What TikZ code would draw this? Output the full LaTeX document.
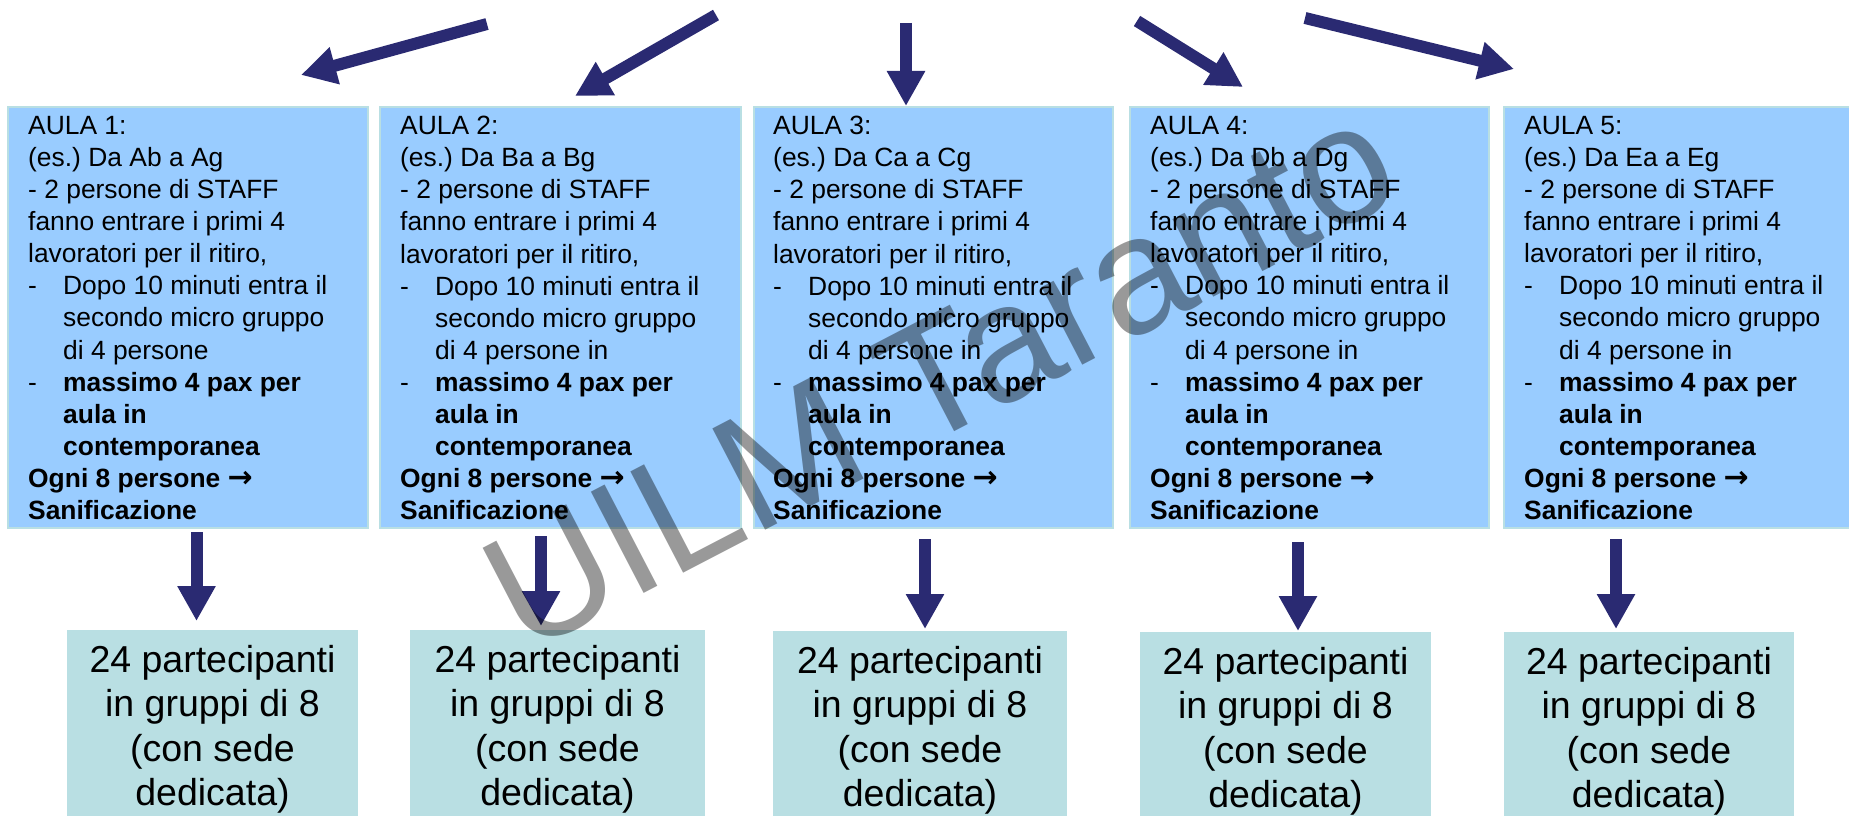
\documentclass[tikz,border=0pt]{standalone}
\usepackage{fontspec}
\setmainfont{Liberation Sans}
\newfontfamily\arrowfont{DejaVu Sans}
\usetikzlibrary{arrows.meta}
\definecolor{navy}{RGB}{42,42,114}
\definecolor{boxblue}{RGB}{153,204,255}
\definecolor{boxedge}{RGB}{185,223,227}
\definecolor{boxteal}{RGB}{185,223,227}
\frenchspacing
\newcommand\dsh{\makebox[35pt][l]{-}}
\newcommand\ind{\hspace*{35pt}}
\newcommand\rarr{{\arrowfont\bfseries\fontsize{30}{30}\selectfont →}}
\newcommand\aulatext[4]{AULA #1:\\
(es.) Da #2 a #3\\
- 2 persone di STAFF\\
fanno entrare i primi 4\\
lavoratori per il ritiro,\\
\dsh Dopo 10 minuti entra il\\
\ind secondo micro gruppo\\
\ind di 4 persone#4\\
\dsh\textbf{massimo 4 pax per}\\
\ind\textbf{aula in}\\
\ind\textbf{contemporanea}\\
\textbf{Ogni 8 persone} \rarr\\
\textbf{Sanificazione}}
\newcommand\bottext{24 partecipanti\\in gruppi di 8\\(con sede\\dedicata)}
\tikzset{
  topbox/.style={draw=boxedge, line width=2pt, fill=boxblue, anchor=north west, inner sep=0pt, minimum height=421pt},
  botbox/.style={fill=boxteal, anchor=north west, inner sep=0pt, minimum height=200pt},
  toptxt/.style={anchor=north west, align=left, inner sep=0pt, font=\fontsize{26.4}{32.1}\selectfont},
  bottxt/.style={anchor=north, align=center, inner sep=0pt, font=\fontsize{37.5}{44.5}\selectfont},
  bigarrow/.style={draw=navy, line width=12pt, -{Triangle[width=36pt,length=35pt]}},
  watermark/.style={rotate=27.5, text=black, text opacity=0.4, inner sep=0pt, font=\fontsize{166}{166}\selectfont}
}
\begin{document}
\begin{tikzpicture}[x=1pt,y=-1pt]
\useasboundingbox[fill=white] (0,0) rectangle (1849,816);
% top boxes
\node[topbox, minimum width=360pt] (b1) at (7,106) {};
\node[topbox, minimum width=361pt] (b2) at (379,106) {};
\node[topbox, minimum width=359pt] (b3) at (753,106) {};
\node[topbox, minimum width=359pt] (b4) at (1129,106) {};
\node[topbox, minimum width=380pt] (b5) at (1503,106) {};
\node[toptxt] (x1) at (28,116) {\aulatext{1}{Ab}{Ag}{}};
\node[toptxt] (x2) at (400,116) {\aulatext{2}{Ba}{Bg}{ in}};
\node[toptxt] (x3) at (773,116) {\aulatext{3}{Ca}{Cg}{ in}};
\node[toptxt] (x4) at (1150,116) {\aulatext{4}{Db}{Dg}{ in}};
\node[toptxt] (x5) at (1524,116) {\aulatext{5}{Ea}{Eg}{ in}};
% bottom boxes
\node[botbox, minimum width=291pt] (c1) at (67,630) {};
\node[botbox, minimum width=295pt] (c2) at (410,630) {};
\node[botbox, minimum width=294pt] (c3) at (773,631) {};
\node[botbox, minimum width=291pt] (c4) at (1140,632) {};
\node[botbox, minimum width=290pt] (c5) at (1504,632) {};
\node[bottxt] (y1) at (212.5,645) {\bottext};
\node[bottxt] (y2) at (557.5,645) {\bottext};
\node[bottxt] (y3) at (920,646) {\bottext};
\node[bottxt] (y4) at (1285.5,647) {\bottext};
\node[bottxt] (y5) at (1649,647) {\bottext};
% arrow end points
\coordinate (t1s) at (487,24);  \coordinate (t1e) at (301,75);
\coordinate (t2s) at (716,15);  \coordinate (t2e) at (575,96);
\coordinate (t3s) at (906,23);  \coordinate (t3e) at (906,106);
\coordinate (t4s) at (1137,21); \coordinate (t4e) at (1243,87);
\coordinate (t5s) at (1305,18); \coordinate (t5e) at (1514,69);
\coordinate (d1s) at (196.5,532); \coordinate (d1e) at (196.5,621);
\coordinate (d2s) at (541,536);   \coordinate (d2e) at (541,626);
\coordinate (d3s) at (925,539);   \coordinate (d3e) at (925,629);
\coordinate (d4s) at (1298,542);  \coordinate (d4e) at (1298,631);
\coordinate (d5s) at (1616,539);  \coordinate (d5e) at (1616,629);
\foreach \i in {1,...,5} {
  \draw[bigarrow] (t\i s) -- (t\i e);
  \draw[bigarrow] (d\i s) -- (d\i e);
}
% watermark
\node[watermark] (wm) at (940,376) {UILM Taranto};
\end{tikzpicture}
\end{document}
